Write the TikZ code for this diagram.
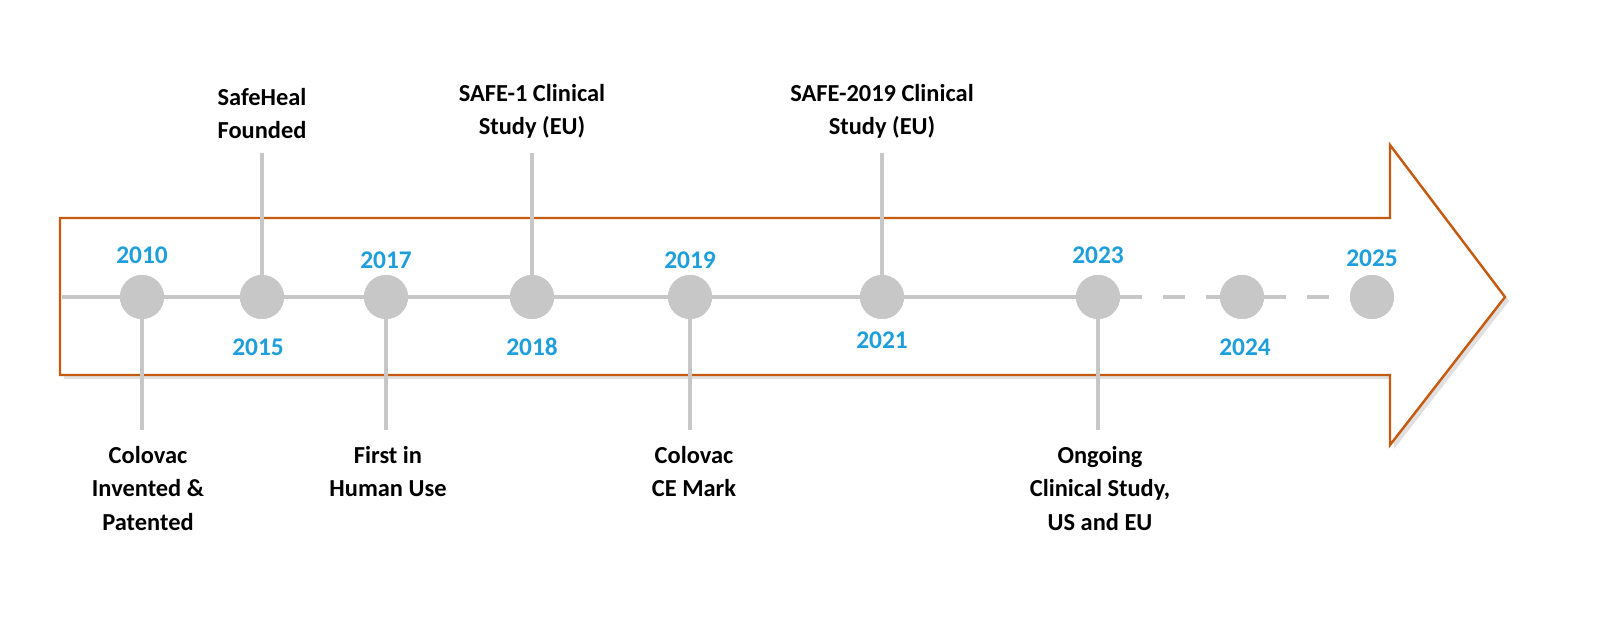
\documentclass[tikz,border=0pt]{standalone}
\usepackage{fontspec}
\setmainfont{Carlito}
\begin{document}
\begin{tikzpicture}[x=1.0235pt,y=-1.0235pt,
  dot/.style={circle,fill=black!22,minimum size=45pt,inner sep=0pt},
  stem/.style={draw=black!22,line width=5pt},
  yr/.style={font=\bfseries\fontsize{26}{31}\selectfont},
  lab/.style={font=\bfseries\fontsize{25}{34}\selectfont,align=center}]
\definecolor{orng}{HTML}{C55A11}
\definecolor{blu}{HTML}{1E9FDB}
\tikzset{yr/.append style={text=blu}}
\useasboundingbox (0,0) rectangle (1602,630);
% arrow shadow
\fill[black!12] (64,222) -- (1394,222) -- (1394,149) -- (1509,301) -- (1394,449) -- (1394,379) -- (64,379) -- cycle;
\draw[orng,line width=2.5pt,fill=white,line join=miter] (60,218) -- (1390,218) -- (1390,145) -- (1505,297) -- (1390,445) -- (1390,375) -- (60,375) -- cycle;
% nodes
\foreach \n/\x in {a/142,b/262,c/386,d/532,e/690,f/882,g/1098,h/1242,i/1372}{\node[dot] (\n) at (\x,297) {};}
\coordinate (s) at (62,297);
\draw[stem] (s) -- (a) -- (b) -- (c) -- (d) -- (e) -- (f) -- (g);
\draw[stem,dash pattern=on 22pt off 22pt] (g) -- (h) -- (i);
\foreach \n/\x in {a/142,b/262,c/386,d/532,e/690,f/882,g/1098,h/1242,i/1372}{\node[dot] at (\x,297) {};}
% stems
\coordinate (tb) at (262,153); \coordinate (td) at (532,153); \coordinate (tf) at (882,153);
\coordinate (ba) at (142,430); \coordinate (bc) at (386,430); \coordinate (be) at (690,430); \coordinate (bg) at (1098,430);
\draw[stem] (b) -- (tb); \draw[stem] (d) -- (td); \draw[stem] (f) -- (tf);
\draw[stem] (a) -- (ba); \draw[stem] (c) -- (bc); \draw[stem] (e) -- (be); \draw[stem] (g) -- (bg);
% years
\node[yr] (y1) at (142,255) {2010};
\node[yr] (y2) at (258,347) {2015};
\node[yr] (y3) at (386,260) {2017};
\node[yr] (y4) at (532,347) {2018};
\node[yr] (y5) at (690,260) {2019};
\node[yr] (y6) at (882,340) {2021};
\node[yr] (y7) at (1098,255) {2023};
\node[yr] (y8) at (1245,347) {2024};
\node[yr] (y9) at (1372,258) {2025};
% labels
\node[lab,anchor=south] (l1) at (262,142) {SafeHeal\\Founded};
\node[lab,anchor=south] (l2) at (532,142) {SAFE-1 Clinical\\Study (EU)};
\node[lab,anchor=south] (l3) at (882,142) {SAFE-2019 Clinical\\Study (EU)};
\node[lab,anchor=north] (l4) at (148,443) {Colovac\\Invented \&\\Patented};
\node[lab,anchor=north] (l5) at (388,443) {First in\\Human Use};
\node[lab,anchor=north] (l6) at (694,443) {Colovac\\CE Mark};
\node[lab,anchor=north] (l7) at (1100,443) {Ongoing\\Clinical Study,\\US and EU};
\end{tikzpicture}
\end{document}
